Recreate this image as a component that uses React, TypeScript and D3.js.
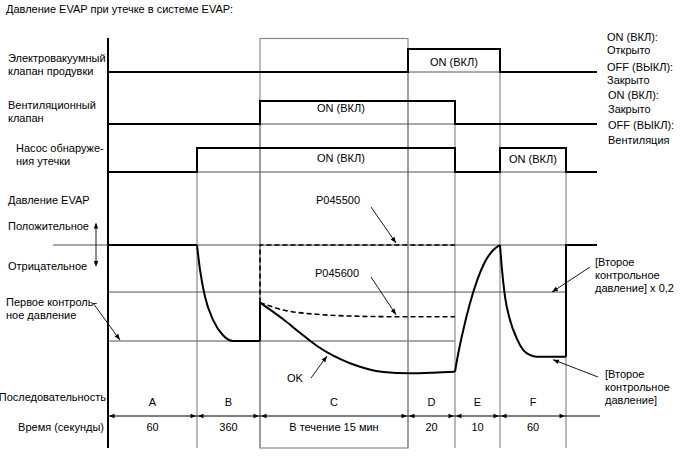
import React from 'react';
import * as d3 from 'd3';

// ---- Data ----
const phases = ['A', 'B', 'C', 'D', 'E', 'F'];
const durations = ['60', '360', 'В течение 15 мин', '20', '10', '60'];
// signal state per phase A..F plus trailing segment
const purgeValve = [0, 0, 0, 1, 1, 0, 0];
const ventValve = [0, 0, 1, 1, 0, 0, 0];
const leakPump = [0, 1, 1, 1, 0, 1, 0];

// pressure, x = phase position (0 = start of A), y = relative pressure (0 = atmospheric, -1 = first reference)
const pressureA: [number, number][] = [[0, 0], [1, 0]];
const pressureB: [number, number][] = [[1, 0], [1.048, -0.26], [1.127, -0.54], [1.254, -0.78], [1.413, -0.94], [1.571, -1], [2, -1]];
const pressureJump: [number, number][] = [[2, -1], [2, -0.6]];
const pressureOK: [number, number][] = [[2, -0.6], [2.157, -0.774], [2.27, -0.914], [2.383, -1.049], [2.495, -1.153], [2.608, -1.232], [2.721, -1.289], [2.833, -1.323], [3.04, -1.336], [3.54, -1.33], [4, -1.32]];
const pressureE: [number, number][] = [[4, -1.32], [4.073, -1.128], [4.184, -0.885], [4.333, -0.607], [4.482, -0.382], [4.667, -0.174], [4.851, -0.052], [5, 0]];
const pressureF: [number, number][] = [[5, 0], [5.026, -0.226], [5.076, -0.539], [5.152, -0.781], [5.253, -0.972], [5.353, -1.094], [5.455, -1.146], [5.556, -1.163], [6, -1.163]];
const pressureEnd: [number, number][] = [[6, -1.163], [6, 0], [7, 0]];
const p045500: [number, number][] = [[2, -0.6], [2, 0], [4, 0]];
const p045600: [number, number][] = [[2, -0.6], [2.157, -0.677], [2.383, -0.722], [2.608, -0.74], [2.925, -0.747], [4, -0.747]];
const secondRefX02 = -0.49;

const FONT = '"Liberation Sans", Arial, Helvetica, sans-serif';
const GRAY = '#8a8a8a';

function head(tx: number, ty: number, fx: number, fy: number, len = 6, hw = 2.3) {
  const a = Math.atan2(ty - fy, tx - fx);
  const bx = tx - len * Math.cos(a), by = ty - len * Math.sin(a);
  const px = -Math.sin(a) * hw, py = Math.cos(a) * hw;
  return `${tx},${ty} ${bx + px},${by + py} ${bx - px},${by - py}`;
}

function Arrow({ x1, y1, x2, y2 }: { x1: number; y1: number; x2: number; y2: number }) {
  return (
    <g>
      <line x1={x1} y1={y1} x2={x2} y2={y2} stroke="#000" strokeWidth={0.9} />
      <polygon points={head(x2, y2, x1, y1)} fill="#000" />
    </g>
  );
}

export default function App() {
  const x = d3.scaleLinear().domain([0, 1, 2, 3, 4, 5, 6, 7]).range([108, 197, 260, 408, 455, 500, 566, 597]);
  const yPurge = d3.scaleLinear().domain([0, 1]).range([72, 49]);
  const yVent = d3.scaleLinear().domain([0, 1]).range([124, 101]);
  const yPump = d3.scaleLinear().domain([0, 1]).range([172, 148]);
  const yP = d3.scaleLinear().domain([0, -1]).range([245, 341]);

  const stepLine = (ys: d3.ScaleLinear<number, number>) =>
    d3.line<[number, number]>().x(d => x(d[0])).y(d => ys(d[1])).curve(d3.curveStepAfter);
  const sig = (arr: number[]) => {
    const pts: [number, number][] = arr.map((v, i) => [i, v]);
    pts.push([arr.length, arr[arr.length - 1]]);
    return pts;
  };
  const lin = d3.line<[number, number]>().x(d => x(d[0])).y(d => yP(d[1]));
  const smooth = d3.line<[number, number]>().x(d => x(d[0])).y(d => yP(d[1])).curve(d3.curveMonotoneX);

  const rows = [
    { data: purgeValve, y: yPurge },
    { data: ventValve, y: yVent },
    { data: leakPump, y: yPump },
  ];

  // vertical guide lines at phase boundaries: start at the highest row that changes there
  const bottom = 448;
  const boundaries = [1, 2, 3, 4, 5, 6].map(i => {
    let top = bottom;
    for (const r of rows) {
      if (r.data[i] !== r.data[i - 1]) { top = r.y(1); break; }
    }
    return { i, top };
  });

  const dimY = 416;
  const fs = 11;
  const T = (props: any) => <text fontFamily={FONT} fontSize={fs} fill="#000" {...props} />;

  return (
    <svg width={688} height={463} style={{ position: 'absolute', left: 0, top: 0, background: '#fff' }}>
      <rect x={0} y={0} width={688} height={463} fill="#fff" />
      {/* title */}
      <T x={6} y={13}>Давление EVAP при утечке в системе EVAP:</T>

      {/* C box */}
      <rect x={x(2)} y={38.5} width={x(3) - x(2)} height={bottom - 38.5} fill="none" stroke={GRAY} strokeWidth={1.2} />

      {/* vertical guides */}
      {boundaries.map(b => (
        <line key={b.i} x1={x(b.i)} x2={x(b.i)} y1={Math.min(b.top, 448)} y2={bottom} stroke={GRAY} strokeWidth={1.2} />
      ))}

      {/* signal baselines */}
      {rows.map((r, k) => (
        <line key={'bl' + k} x1={x(0)} x2={x(7)} y1={r.y(0)} y2={r.y(0)} stroke="#555" strokeWidth={1} />
      ))}
      {/* signals */}
      {rows.map((r, k) => (
        <path key={'sg' + k} d={stepLine(r.y)(sig(r.data)) || ''} fill="none" stroke="#000" strokeWidth={2} />
      ))}

      {/* pressure reference lines */}
      <line x1={53} x2={x(7)} y1={yP(0)} y2={yP(0)} stroke={GRAY} strokeWidth={1.6} />
      <line x1={x(0)} x2={x(6)} y1={yP(secondRefX02)} y2={yP(secondRefX02)} stroke="#555" strokeWidth={1} />
      <line x1={x(0)} x2={x(4)} y1={yP(-1)} y2={yP(-1)} stroke={GRAY} strokeWidth={1.6} />

      {/* dashed failure curves */}
      <path d={lin(p045500) || ''} fill="none" stroke="#000" strokeWidth={1.6} strokeDasharray="5,3" />
      <path d={smooth(p045600) || ''} fill="none" stroke="#000" strokeWidth={1.6} strokeDasharray="5,3" />

      {/* solid pressure curve */}
      {[pressureA, pressureJump, pressureEnd].map((p, k) => (
        <path key={'pl' + k} d={lin(p) || ''} fill="none" stroke="#000" strokeWidth={2} />
      ))}
      {[pressureB, pressureOK, pressureE, pressureF].map((p, k) => (
        <path key={'ps' + k} d={smooth(p) || ''} fill="none" stroke="#000" strokeWidth={2} />
      ))}

      {/* left axis */}
      <line x1={x(0)} x2={x(0)} y1={38} y2={bottom} stroke="#000" strokeWidth={2} />

      {/* dimension line */}
      <line x1={x(0)} x2={600} y1={dimY} y2={dimY} stroke="#000" strokeWidth={1} />
      {phases.map((_, i) => (
        <g key={'dim' + i}>
          <polygon points={head(x(i) + 1, dimY, x(i) + 10, dimY, 5.5, 2.2)} fill="#000" />
          <polygon points={head(x(i + 1) - 1, dimY, x(i + 1) - 10, dimY, 5.5, 2.2)} fill="#000" />
        </g>
      ))}

      {/* phase letters and durations */}
      {phases.map((p, i) => (
        <T key={'ph' + i} x={(x(i) + x(i + 1)) / 2} y={406} textAnchor="middle">{p}</T>
      ))}
      {durations.map((d, i) => (
        <T key={'du' + i} x={(x(i) + x(i + 1)) / 2} y={431} textAnchor="middle">{d}</T>
      ))}
      <T x={106} y={401} textAnchor="end">Последовательность</T>
      <T x={104} y={431} textAnchor="end">Время (секунды)</T>

      {/* ON labels */}
      <T x={(x(3) + x(5)) / 2} y={65.5} textAnchor="middle">ON (ВКЛ)</T>
      <T x={341} y={112} textAnchor="middle">ON (ВКЛ)</T>
      <T x={341} y={162} textAnchor="middle">ON (ВКЛ)</T>
      <T x={(x(5) + x(6)) / 2} y={163} textAnchor="middle">ON (ВКЛ)</T>

      {/* row labels */}
      <T x={8} y={61.5}>Электровакуумный</T>
      <T x={8} y={75}>клапан продувки</T>
      <T x={8} y={108.5}>Вентиляционный</T>
      <T x={8} y={122}>клапан</T>
      <T x={16} y={151.5}>Насос обнаруже-</T>
      <T x={16} y={164.5}>ния утечки</T>
      <T x={8} y={204}>Давление EVAP</T>
      <T x={8} y={230}>Положительное</T>
      <T x={8} y={269.5}>Отрицательное</T>
      <T x={6} y={305.5}>Первое контроль-</T>
      <T x={6} y={318.5}>ное давление</T>

      {/* right state labels */}
      <T x={607} y={40.5}>ON (ВКЛ):</T>
      <T x={607} y={54}>Открыто</T>
      <T x={607} y={70.5}>OFF (ВЫКЛ):</T>
      <T x={607} y={84}>Закрыто</T>
      <T x={608} y={99}>ON (ВКЛ):</T>
      <T x={608} y={113}>Закрыто</T>
      <T x={608} y={129}>OFF (ВЫКЛ):</T>
      <T x={608} y={144}>Вентиляция</T>

      {/* up/down arrow */}
      <line x1={96} x2={96} y1={224} y2={265} stroke="#000" strokeWidth={0.9} />
      <polygon points={head(96, 222.5, 96, 232, 6, 2.2)} fill="#000" />
      <polygon points={head(96, 267, 96, 258, 6, 2.2)} fill="#000" />

      {/* annotation labels */}
      <T x={338} y={204} textAnchor="middle">P045500</T>
      <T x={337} y={276.5} textAnchor="middle">P045600</T>
      <T x={295} y={382} textAnchor="middle">OK</T>
      <T x={595} y={265.5}>[Второе</T>
      <T x={595} y={278.5}>контрольное</T>
      <T x={595} y={291.5}>давление] x 0,2</T>
      <T x={605} y={377.5}>[Второе</T>
      <T x={605} y={390.5}>контрольное</T>
      <T x={605} y={403.5}>давление]</T>

      {/* annotation arrows */}
      <Arrow x1={93} y1={303} x2={120} y2={yP(-1) - 1} />
      <Arrow x1={371} y1={207} x2={396} y2={yP(0) - 2} />
      <Arrow x1={371} y1={277} x2={396} y2={yP(-0.747) - 2} />
      <Arrow x1={311} y1={378} x2={327} y2={356} />
      <Arrow x1={590} y1={267} x2={552} y2={yP(secondRefX02)} />
      <Arrow x1={598} y1={377} x2={553} y2={yP(-1.163) + 3} />
    </svg>
  );
}
